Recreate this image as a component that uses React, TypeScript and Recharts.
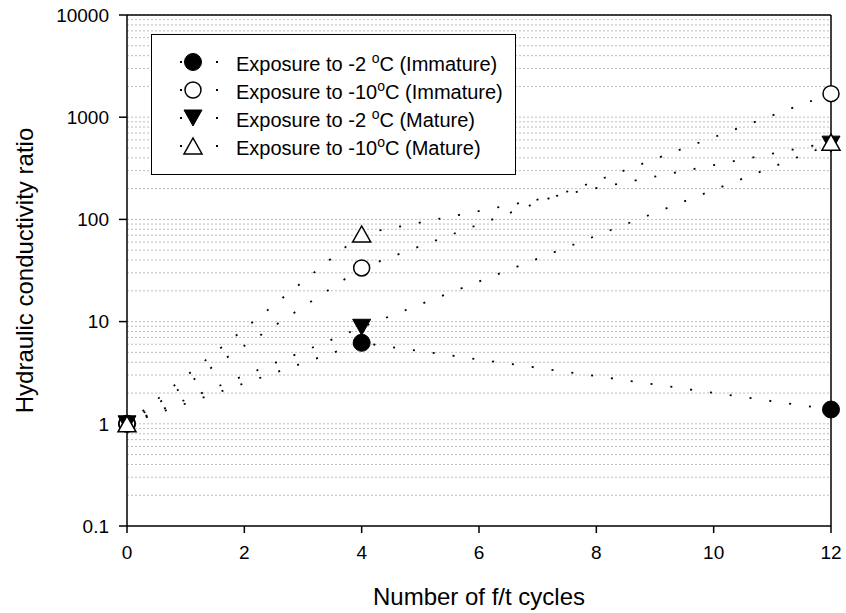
import React from "react";
import {
  ComposedChart,
  Line,
  XAxis,
  YAxis,
  ReferenceLine,
} from "recharts";

const cycles = [0, 4, 12];
const immatureMinus2 = [1, 6.2, 1.38];
const immatureMinus10 = [1, 33.5, 1700];
const matureMinus2 = [1, 8.8, 545];
const matureMinus10 = [1, 72, 570];

const xTicks = [0, 2, 4, 6, 8, 10, 12];
const yTicks = [0.1, 1, 10, 100, 1000, 10000];
const gridValues: number[] = [];
[0.1, 1, 10, 100, 1000].forEach((d) => {
  [1, 2, 3, 4, 5, 6, 7, 8, 9].forEach((m) => {
    if (!(d === 0.1 && m === 1)) gridValues.push(+(d * m).toPrecision(3));
  });
});
gridValues.push(10000);

type Shape = "circleFilled" | "circleOpen" | "triDownFilled" | "triUpOpen";

const seriesList: { key: string; prefix: string; suffix: string; shape: Shape; values: number[] }[] = [
  { key: "im2", prefix: "Exposure to -2 ", suffix: "C (Immature)", shape: "circleFilled", values: immatureMinus2 },
  { key: "im10", prefix: "Exposure to -10", suffix: "C (Immature)", shape: "circleOpen", values: immatureMinus10 },
  { key: "m2", prefix: "Exposure to -2 ", suffix: "C (Mature)", shape: "triDownFilled", values: matureMinus2 },
  { key: "m10", prefix: "Exposure to -10", suffix: "C (Mature)", shape: "triUpOpen", values: matureMinus10 },
];

const data = cycles.map((c, i) => {
  const row: Record<string, number> = { x: c };
  seriesList.forEach((s) => (row[s.key] = s.values[i]));
  return row;
});

const FONT = "'Liberation Sans', Arial, sans-serif";

function Marker({ shape, cx, cy }: { shape: Shape; cx: number; cy: number }) {
  const r = 8.5;
  const h = 16;
  const w = 18;
  if (shape === "circleFilled")
    return <circle cx={cx} cy={cy} r={r} fill="#000" stroke="#000" strokeWidth={1} />;
  if (shape === "circleOpen")
    return <circle cx={cx} cy={cy} r={r - 0.5} fill="#fff" stroke="#000" strokeWidth={1.5} />;
  if (shape === "triDownFilled")
    return (
      <polygon
        points={`${cx - w / 2},${cy - h / 2} ${cx + w / 2},${cy - h / 2} ${cx},${cy + h / 2}`}
        fill="#000"
        stroke="#000"
        strokeWidth={1}
      />
    );
  return (
    <polygon
      points={`${cx - w / 2},${cy + h / 2} ${cx + w / 2},${cy + h / 2} ${cx},${cy - h / 2}`}
      fill="#fff"
      stroke="#000"
      strokeWidth={1.5}
    />
  );
}

const makeDot = (shape: Shape) => (props: any) => {
  const { cx, cy, index } = props;
  if (cx == null || cy == null) return <g key={index} />;
  return (
    <g key={index}>
      <Marker shape={shape} cx={cx} cy={cy} />
    </g>
  );
};

export default function App() {
  return (
    <div style={{ position: "absolute", left: 0, top: 0, width: 846, height: 613, background: "#fff", fontFamily: FONT }}>
      <ComposedChart
        width={846}
        height={613}
        data={data}
        margin={{ top: 15, right: 15, left: 0, bottom: 0 }}
      >
        {gridValues.map((v) => (
          <ReferenceLine
            key={v}
            y={v}
            stroke="#bdbdbd"
            strokeWidth={1}
            strokeDasharray="2 2"
            ifOverflow="extendDomain"
          />
        ))}
        <XAxis
          dataKey="x"
          type="number"
          domain={[0, 12]}
          ticks={xTicks}
          height={87}
          tickSize={7}
          tickMargin={13}
          stroke="#000"
          strokeWidth={1.5}
          tick={{ fill: "#000", fontSize: 19, fontFamily: FONT }}
          tickLine={{ stroke: "#000", strokeWidth: 1.5 }}
          label={{
            value: "Number of f/t cycles",
            position: "insideBottom",
            offset: 8,
            fill: "#000",
            fontSize: 24,
            fontFamily: FONT,
          }}
        />
        <YAxis
          type="number"
          scale="log"
          domain={[0.1, 10000]}
          allowDataOverflow
          ticks={yTicks}
          tickFormatter={(v: number) => String(v)}
          width={127}
          tickSize={8}
          tickMargin={10}
          stroke="#000"
          strokeWidth={1.5}
          tick={{ fill: "#000", fontSize: 19, fontFamily: FONT }}
          tickLine={{ stroke: "#000", strokeWidth: 1.5 }}
          label={{
            value: "Hydraulic conductivity ratio",
            angle: -90,
            position: "insideLeft",
            offset: 24,
            style: { textAnchor: "middle" },
            fill: "#000",
            fontSize: 24,
            fontFamily: FONT,
          }}
        />
        <ReferenceLine x={12} stroke="#000" strokeWidth={1.5} />
        <ReferenceLine y={10000} stroke="#000" strokeWidth={1.5} />
        {seriesList.map((s) => (
          <Line
            key={s.key}
            dataKey={s.key}
            type="linear"
            stroke="#000"
            strokeWidth={1.8}
            strokeDasharray="2 18"
            dot={makeDot(s.shape)}
            activeDot={false}
            isAnimationActive={false}
          />
        ))}
      </ComposedChart>
      <div
        style={{
          position: "absolute",
          left: 151,
          top: 34,
          width: 363,
          height: 139,
          border: "1.5px solid #000",
          background: "#fff",
          boxSizing: "content-box",
        }}
      >
        {seriesList.map((s, i) => (
          <div
            key={s.key}
            style={{
              position: "absolute",
              left: 0,
              top: 13 + i * 28,
              height: 28,
              display: "flex",
              alignItems: "center",
            }}
          >
            <svg width={70} height={28} style={{ display: "block", marginLeft: 18 }}>
              <line x1={10} y1={14} x2={48} y2={14} stroke="#000" strokeWidth={1.8} strokeDasharray="2 34" />
              <Marker shape={s.shape} cx={23} cy={14} />
            </svg>
            <span
              style={{
                fontSize: 20,
                color: "#000",
                fontFamily: FONT,
                whiteSpace: "nowrap",
                marginLeft: -4,
                position: "relative",
                top: 2,
              }}
            >
              {s.prefix}
              <sup style={{ fontSize: 14, verticalAlign: "top", position: "relative", top: -3 }}>o</sup>
              {s.suffix}
            </span>
          </div>
        ))}
      </div>
    </div>
  );
}
